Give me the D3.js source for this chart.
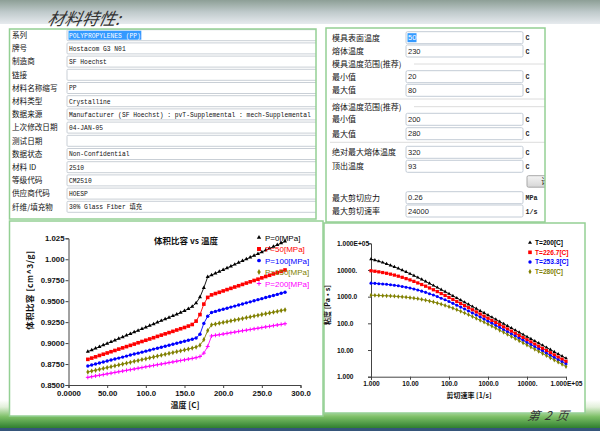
<!DOCTYPE html>
<html><head><meta charset="utf-8">
<script src="https://cdn.jsdelivr.net/npm/d3@7"></script>
<style>body{margin:0;background:#fff}svg{display:block}</style>
</head><body>
<svg id="c" width="600" height="431"></svg>
<script>
// ---------------- DATA ----------------
const pageTitle = "材料特性:";
const pageNumber = "第 2 页";

const tableLabels = ["系列","牌号","制造商","链接","材料名称缩写","材料类型","数据来源","上次修改日期","测试日期","数据状态","材料 ID","等级代码","供应商代码","纤维/填充物"];
const tableValues = ["POLYPROPYLENES (PP)","Hostacom G3 N01","SF Hoechst","","PP","Crystalline","Manufacturer (SF Hoechst) : pvT-Supplemental : mech-Supplemental","04-JAN-05","","Non-Confidential","2510","CM2510","HOESP","30% Glass Fiber 填充"];

const paramLabels = ["模具表面温度","熔体温度","模具温度范围(推荐)","最小值","最大值","熔体温度范围(推荐)","最小值","最大值","绝对最大熔体温度","顶出温度","最大剪切应力","最大剪切速率"];
const paramValues = ["50","230",null,"20","80",null,"200","280","320","93","0.26","24000"];
const paramUnits  = ["C","C",null,"C","C",null,"C","C","C","C","MPa","1/s"];

// PVT chart
const pvtTitle = "体积比容 vs 温度";
const pvtSeriesNames = ["P=0[MPa]","P=50[MPa]","P=100[MPa]","P=150[MPa]","P=200[MPa]"];
const pvtTemps = [25,30,35,40,45,50,55,60,65,70,75,80,85,90,95,100,105,110,115,120,125,130,135,140,145,150,155,160,165,170,175,180,185,190,195,200,205,210,215,220,225,230,235,240,245,250,255,260,265,270,275,280];
const pvtP0   = [0.8898,0.8917,0.8937,0.8956,0.8976,0.8995,0.9014,0.9034,0.9053,0.9073,0.9092,0.9111,0.9131,0.9150,0.9170,0.9189,0.9208,0.9228,0.9247,0.9267,0.9286,0.9305,0.9325,0.9344,0.9364,0.9385,0.9408,0.9436,0.9478,0.9548,0.9660,0.9790,0.9811,0.9832,0.9853,0.9874,0.9896,0.9917,0.9938,0.9959,0.9980,1.0002,1.0023,1.0044,1.0065,1.0087,1.0108,1.0129,1.0150,1.0171,1.0193,1.0214];
const pvtP50  = [0.8806,0.8821,0.8836,0.8852,0.8867,0.8882,0.8897,0.8912,0.8928,0.8943,0.8958,0.8973,0.8988,0.9004,0.9019,0.9034,0.9049,0.9064,0.9080,0.9095,0.9110,0.9125,0.9140,0.9156,0.9171,0.9186,0.9203,0.9222,0.9262,0.9340,0.9465,0.9545,0.9575,0.9591,0.9606,0.9622,0.9638,0.9653,0.9669,0.9684,0.9700,0.9716,0.9731,0.9747,0.9762,0.9778,0.9794,0.9809,0.9825,0.9840,0.9856,0.9872];
const pvtP100 = [0.8727,0.8739,0.8751,0.8762,0.8774,0.8786,0.8798,0.8810,0.8821,0.8833,0.8845,0.8857,0.8869,0.8880,0.8892,0.8904,0.8916,0.8928,0.8939,0.8951,0.8963,0.8975,0.8987,0.8998,0.9010,0.9022,0.9034,0.9046,0.9060,0.9105,0.9235,0.9320,0.9365,0.9378,0.9391,0.9403,0.9416,0.9429,0.9441,0.9454,0.9467,0.9480,0.9492,0.9505,0.9518,0.9530,0.9543,0.9556,0.9568,0.9581,0.9594,0.9607];
const pvtP150 = [0.8655,0.8666,0.8676,0.8687,0.8697,0.8708,0.8718,0.8729,0.8739,0.8750,0.8760,0.8771,0.8782,0.8792,0.8803,0.8813,0.8824,0.8834,0.8845,0.8855,0.8866,0.8877,0.8887,0.8898,0.8908,0.8919,0.8929,0.8940,0.8953,0.8975,0.9040,0.9150,0.9218,0.9227,0.9237,0.9246,0.9256,0.9265,0.9274,0.9284,0.9293,0.9303,0.9312,0.9322,0.9331,0.9341,0.9350,0.9359,0.9369,0.9378,0.9388,0.9397];
const pvtP200 = [0.8591,0.8599,0.8608,0.8616,0.8624,0.8633,0.8641,0.8650,0.8658,0.8666,0.8675,0.8683,0.8691,0.8700,0.8708,0.8717,0.8725,0.8733,0.8742,0.8750,0.8758,0.8767,0.8775,0.8784,0.8792,0.8800,0.8809,0.8817,0.8826,0.8840,0.8880,0.8960,0.9085,0.9093,0.9100,0.9108,0.9116,0.9124,0.9131,0.9139,0.9147,0.9154,0.9162,0.9170,0.9177,0.9185,0.9193,0.9200,0.9208,0.9216,0.9223,0.9231];
const pvtXTicks = [0,50,100,150,200,250,300];
const pvtXTickLabels = ["0.0000","50.00","100.0","150.0","200.0","250.0","300.0"];
const pvtYTicks = [0.85,0.875,0.9,0.925,0.95,0.975,1.0,1.025];
const pvtYTickLabels = ["0.8500","0.8750","0.9000","0.9250","0.9500","0.9750","1.000","1.025"];
const pvtXTitle = "温度 [C]";
const pvtYTitle = "体积比容 [cm^3/g]";

// Viscosity chart
const viscSeriesNames = ["T=200[C]","T=226.7[C]","T=253.3[C]","T=280[C]"];
const shearRates = [1,1.259,1.585,1.995,2.512,3.162,3.981,5.012,6.310,7.943,
  10,12.59,15.85,19.95,25.12,31.62,39.81,50.12,63.10,79.43,
  100,125.9,158.5,199.5,251.2,316.2,398.1,501.2,631.0,794.3,
  1000,1259,1585,1995,2512,3162,3981,5012,6310,7943,
  10000,12589,15849,19953,25119,31623,39811,50119,63096,79433,100000];
const viscT200 = [25600,23400,21200,19000,16900,14900,13100,11400,9840,8450,7230,6150,5220,4420,3720,3130,2620,2200,1840,1540,1280,1070,891,741,617,513,427,355,294,245,203,169,140,116,96.6,80.2,66.5,55.2,45.8,38.0,31.5,26.2,21.7,18.0,15.0,12.4,10.3,8.55,7.10,5.89,4.89];
const viscT227 = [9360,8950,8510,8020,7520,6970,6430,5860,5310,4750,4240,3740,3270,2850,2470,2120,1810,1550,1310,1110,933,785,659,552,461,385,321,268,223,186,155,128,107,88.9,73.8,61.4,50.9,42.4,35.2,29.2,24.2,20.1,16.7,13.8,11.5,9.53,7.91,6.56,5.44,4.52,3.75];
const viscT253 = [3210,3150,3070,2990,2900,2790,2680,2550,2410,2270,2110,1950,1780,1610,1450,1290,1150,1010,877,760,655,561,479,406,343,290,244,205,172,144,120,100,83.6,69.7,57.9,48.2,40.1,33.3,27.7,23.1,19.1,15.9,13.2,11.0,9.10,7.57,6.28,5.21,4.32,3.59,2.98];
const viscT280 = [1130,1120,1110,1090,1080,1060,1040,1010,984,953,918,879,836,789,739,687,632,578,524,470,419,370,324,282,244,210,180,153,130,110,92.9,78.2,65.6,54.8,45.9,38.4,32.0,26.7,22.2,18.5,15.4,12.8,10.6,8.85,7.36,6.11,5.07,4.22,3.50,2.90,2.41];
const viscTicks = [1,10,100,1000,10000,100000];
const viscTickLabels = ["1.000","10.00","100.0","1000.0","10000.","1.000E+05"];
const viscXTitle = "剪切速率 [1/s]";
const viscYTitle = "粘度 [Pa·s]";

// ---------------- DRAWING ----------------
const CJK = "'Noto Sans CJK SC','Noto Sans',sans-serif";
const SANS = "'Liberation Sans',Arial,sans-serif";
const MONO = "'Liberation Mono','DejaVu Sans Mono',monospace";
const GREEN = "#94d094";

const svg = d3.select("#c");
const defs = svg.append("defs");

// background bands
const gTop = defs.append("linearGradient").attr("id","gTop").attr("x1",0).attr("y1",0).attr("x2",0).attr("y2",1);
gTop.append("stop").attr("offset",0).attr("stop-color","#8d9f96");
gTop.append("stop").attr("offset",0.5).attr("stop-color","#bfcacb");
gTop.append("stop").attr("offset",1).attr("stop-color","#e6eaee");
svg.append("rect").attr("x",0).attr("y",0).attr("width",600).attr("height",24).attr("fill","url(#gTop)");

const gBot = defs.append("linearGradient").attr("id","gBot").attr("x1",0).attr("y1",0).attr("x2",0).attr("y2",1);
gBot.append("stop").attr("offset",0).attr("stop-color","#ffffff");
gBot.append("stop").attr("offset",0.25).attr("stop-color","#e2f0da");
gBot.append("stop").attr("offset",0.6).attr("stop-color","#7cbf66");
gBot.append("stop").attr("offset",1).attr("stop-color","#2f7f2f");
svg.append("rect").attr("x",0).attr("y",400).attr("width",600).attr("height",28).attr("fill","url(#gBot)");
svg.append("rect").attr("x",0).attr("y",428).attr("width",600).attr("height",3).attr("fill","#35557a");

// title
svg.append("text").attr("x",47).attr("y",25).text(pageTitle)
  .attr("font-family",CJK).attr("font-size",17).attr("font-style","italic").attr("fill","#333")
  .attr("transform","skewX(-12) translate(5,0)");

// ---------- left table panel ----------
const tp = svg.append("g");
defs.append("clipPath").attr("id","clipT").append("rect").attr("x",9).attr("y",29).attr("width",307).attr("height",190);
const rowY = i => 35.2 + i*13.2;
const tRows = tp.append("g").attr("clip-path","url(#clipT)");
tableLabels.forEach((lab,i)=>{
  const cy = rowY(i);
  tRows.append("text").attr("x",12).attr("y",cy+2.8).text(lab)
    .attr("font-family",CJK).attr("font-size",7.6).attr("fill","#111");
  tRows.append("rect").attr("x",67).attr("y",cy-5.5).attr("width",270).attr("height",11)
    .attr("fill","#fff").attr("stroke","#c9cfd6").attr("stroke-width",1).attr("rx",1);
  const v = tableValues[i];
  if (i===0 && v) {
    tRows.append("rect").attr("x",68.5).attr("y",cy-4.5).attr("width",v.length*3.78+1).attr("height",9).attr("fill","#3399ff");
  }
  const hasCJK = /[\u4e00-\u9fff]/.test(v);
  tRows.append("text").attr("x",69).attr("y",cy+2.3).text(v)
    .attr("font-family", hasCJK ? MONO+",'Noto Sans CJK SC'" : MONO).attr("font-size",6.3)
    .attr("fill", i===0 ? "#fff" : "#111");
});
tp.append("rect").attr("x",9.5).attr("y",29).attr("width",306.5).attr("height",190)
  .attr("fill","none").attr("stroke",GREEN).attr("stroke-width",1.5);

// ---------- right params panel ----------
const pp = svg.append("g");
defs.append("clipPath").attr("id","clipP").append("rect").attr("x",326).attr("y",28).attr("width",219).attr("height",194);
const pRows = pp.append("g").attr("clip-path","url(#clipP)");
const pY = [37.7,51,64,76.7,90.3,106.7,119.3,133.7,152.3,166.3,197.7,211];
// separator lines
[99,142.3].forEach(yy=>pRows.append("line").attr("x1",330).attr("x2",545).attr("y1",yy).attr("y2",yy).attr("stroke","#dcdcdc"));
paramLabels.forEach((lab,i)=>{
  const cy = pY[i];
  pRows.append("text").attr("x",332).attr("y",cy+2.9).text(lab)
    .attr("font-family",CJK).attr("font-size",8).attr("fill","#111");
  if (paramValues[i]===null) {
    pRows.append("line").attr("x1",332+lab.length*8+2).attr("x2",545).attr("y1",cy).attr("y2",cy).attr("stroke","#dcdcdc");
    return;
  }
  pRows.append("rect").attr("x",406).attr("y",cy-6).attr("width",117).attr("height",12)
    .attr("fill","#fff").attr("stroke","#c3ccd6").attr("rx",1.5);
  if (i===0) pRows.append("rect").attr("x",407.5).attr("y",cy-4.5).attr("width",9).attr("height",9).attr("fill","#3399ff");
  pRows.append("text").attr("x",408).attr("y",cy+2.7).text(paramValues[i])
    .attr("font-family",SANS).attr("font-size",7.5).attr("fill", i===0 ? "#fff":"#222");
  pRows.append("text").attr("x",525.5).attr("y",cy+2.5).text(paramUnits[i])
    .attr("font-family",MONO).attr("font-size",6.7).attr("font-weight","bold").attr("fill","#222");
});
// button (clipped)
const gBtn = defs.append("linearGradient").attr("id","gBtn").attr("x1",0).attr("y1",0).attr("x2",0).attr("y2",1);
gBtn.append("stop").attr("offset",0).attr("stop-color","#f4f4f4");
gBtn.append("stop").attr("offset",1).attr("stop-color","#d6d6d6");
pRows.append("rect").attr("x",527).attr("y",175.7).attr("width",30).attr("height",11.5).attr("rx",1.5)
  .attr("fill","url(#gBtn)").attr("stroke","#a8a8a8");
pRows.append("text").attr("x",541).attr("y",184.2).text("计").attr("font-family",CJK).attr("font-size",8).attr("fill","#222");
pp.append("rect").attr("x",326).attr("y",28).attr("width",219).attr("height",194)
  .attr("fill","none").attr("stroke",GREEN).attr("stroke-width",1.5);

// ---------- marker helper ----------
function drawMarker(g, kind, color, x, y, s=1) {
  if (kind==="tri") g.append("path").attr("d", d3.symbol(d3.symbolTriangle, 7*s*s)()).attr("transform",`translate(${x},${y})`).attr("fill",color);
  else if (kind==="sq") g.append("rect").attr("x",x-1.8*s).attr("y",y-1.8*s).attr("width",3.6*s).attr("height",3.6*s).attr("fill",color);
  else if (kind==="circ") g.append("circle").attr("cx",x).attr("cy",y).attr("r",1.7*s).attr("fill",color);
  else if (kind==="dia") g.append("path").attr("d", d3.symbol(d3.symbolDiamond, 8*s*s)()).attr("transform",`translate(${x},${y})`).attr("fill",color);
  else if (kind==="plus") g.append("path").attr("d",`M${x-2*s},${y}H${x+2*s}M${x},${y-2*s}V${y+2*s}`).attr("stroke",color).attr("stroke-width",1);
}

// ---------- PVT chart ----------
const cp1 = svg.append("g");
cp1.append("rect").attr("x",9.5).attr("y",221).attr("width",313.5).attr("height",195).attr("fill","#fff")
  .attr("stroke",GREEN).attr("stroke-width",1.5);
const x1 = d3.scaleLinear().domain([0,300]).range([68.5,300.5]);
const y1 = d3.scaleLinear().domain([0.85,1.025]).range([385,238.3]);
const ax1 = cp1.append("g").attr("transform","translate(0,385)")
  .call(d3.axisBottom(x1).tickValues(pvtXTicks).tickFormat((d,i)=>pvtXTickLabels[i]).tickSize(3).tickPadding(2));
const ay1 = cp1.append("g").attr("transform","translate(68.5,0)")
  .call(d3.axisLeft(y1).tickValues(pvtYTicks).tickFormat((d,i)=>pvtYTickLabels[i]).tickSize(3).tickPadding(1));
[ax1,ay1].forEach(a=>{
  a.select(".domain").attr("stroke","#444");
  a.selectAll(".tick line").attr("stroke","#444");
  a.selectAll("text").attr("font-family",SANS).attr("font-size",7.8).attr("font-weight","bold").attr("fill","#111");
});
cp1.append("text").attr("x",186).attr("y",243.5).attr("text-anchor","middle").text(pvtTitle)
  .attr("font-family",CJK).attr("font-size",8.5).attr("font-weight","bold").attr("fill","#111");
cp1.append("text").attr("x",185).attr("y",408).attr("text-anchor","middle").text(pvtXTitle)
  .attr("font-family",CJK).attr("font-size",8).attr("font-weight","bold").attr("fill","#111");
cp1.append("text").attr("transform","translate(33,290) rotate(-90)").attr("text-anchor","middle").text(pvtYTitle)
  .attr("font-family",CJK).attr("font-size",8.3).attr("font-weight","bold").attr("letter-spacing",0.6).attr("fill","#111");

const pvtSeries = [pvtP0,pvtP50,pvtP100,pvtP150,pvtP200];
const pvtColors = ["#000000","#ff0000","#0000ff","#808000","#ff00ff"];
const pvtKinds = ["tri","sq","circ","dia","plus"];
const line1 = d3.line().x(d=>x1(d[0])).y(d=>y1(d[1]));
pvtSeries.forEach((vals,si)=>{
  const pts = pvtTemps.map((t,i)=>[t,vals[i]]);
  cp1.append("path").attr("d",line1(pts)).attr("fill","none").attr("stroke",pvtColors[si]).attr("stroke-width",0.9);
  const mg = cp1.append("g");
  pts.forEach(p=>drawMarker(mg,pvtKinds[si],pvtColors[si],x1(p[0]),y1(p[1])));
});
const leg1Y = [237.5,249,260.5,272,283.5];
pvtSeriesNames.forEach((n,i)=>{
  drawMarker(cp1,pvtKinds[i],pvtColors[i],259,leg1Y[i],1.1);
  cp1.append("text").attr("x",265).attr("y",leg1Y[i]+3).text(n)
    .attr("font-family",SANS).attr("font-size",8).attr("fill",pvtColors[i]);
});

// ---------- viscosity chart ----------
const cp2 = svg.append("g");
cp2.append("rect").attr("x",324).attr("y",223).attr("width",261).attr("height",190).attr("fill","#fff")
  .attr("stroke",GREEN).attr("stroke-width",1.5);
const x2 = d3.scaleLog().domain([1,1e5]).range([371,566]);
const y2 = d3.scaleLog().domain([1,1e5]).range([376.7,243.3]);
const ax2 = cp2.append("g").attr("transform","translate(0,376.7)")
  .call(d3.axisBottom(x2).tickValues(viscTicks).tickFormat((d,i)=>viscTickLabels[i]).tickSize(3).tickPadding(2));
const ay2 = cp2.append("g").attr("transform","translate(371,0)")
  .call(d3.axisLeft(y2).tickValues(viscTicks).tickFormat((d,i)=>viscTickLabels[i]).tickSize(3).tickPadding(1));
ay2.selectAll("text").attr("text-anchor","start").attr("x",337-371);
[ax2,ay2].forEach(a=>{
  a.select(".domain").attr("stroke","#444");
  a.selectAll(".tick line").attr("stroke","#444");
  a.selectAll("text").attr("font-family",SANS).attr("font-size",6.6).attr("font-weight","bold").attr("fill","#111");
});
cp2.append("text").attr("x",469).attr("y",397.5).attr("text-anchor","middle").text(viscXTitle)
  .attr("font-family",CJK).attr("font-size",7).attr("font-weight","bold").attr("fill","#111");
cp2.append("text").attr("transform","translate(330,305) rotate(-90)").attr("text-anchor","middle").text(viscYTitle)
  .attr("font-family",CJK).attr("font-size",7).attr("font-weight","bold").attr("fill","#111");

const viscSeries = [viscT200,viscT227,viscT253,viscT280];
const viscColors = ["#000000","#ff0000","#0000ff","#808000"];
const viscKinds = ["tri","sq","circ","dia"];
const line2 = d3.line().x(d=>x2(d[0])).y(d=>y2(d[1]));
viscSeries.forEach((vals,si)=>{
  const pts = shearRates.map((r,i)=>[r,vals[i]]);
  cp2.append("path").attr("d",line2(pts)).attr("fill","none").attr("stroke",viscColors[si]).attr("stroke-width",0.9);
  const mg = cp2.append("g");
  pts.forEach(p=>drawMarker(mg,viscKinds[si],viscColors[si],x2(p[0]),y2(p[1]),0.9));
});
const leg2Y = [242.7,252.3,262,271.7];
viscSeriesNames.forEach((n,i)=>{
  drawMarker(cp2,viscKinds[i],viscColors[i],530,leg2Y[i],1);
  cp2.append("text").attr("x",535).attr("y",leg2Y[i]+2.4).text(n)
    .attr("font-family",SANS).attr("font-size",6.6).attr("font-weight","bold").attr("fill",viscColors[i]);
});

// page number
svg.append("text").attr("x",527).attr("y",420).text(pageNumber)
  .attr("font-family",CJK).attr("font-size",12).attr("font-style","italic").attr("letter-spacing",1.2).attr("fill","#333")
  .attr("transform","skewX(-10) translate(74,0)");
</script>
</body></html>
